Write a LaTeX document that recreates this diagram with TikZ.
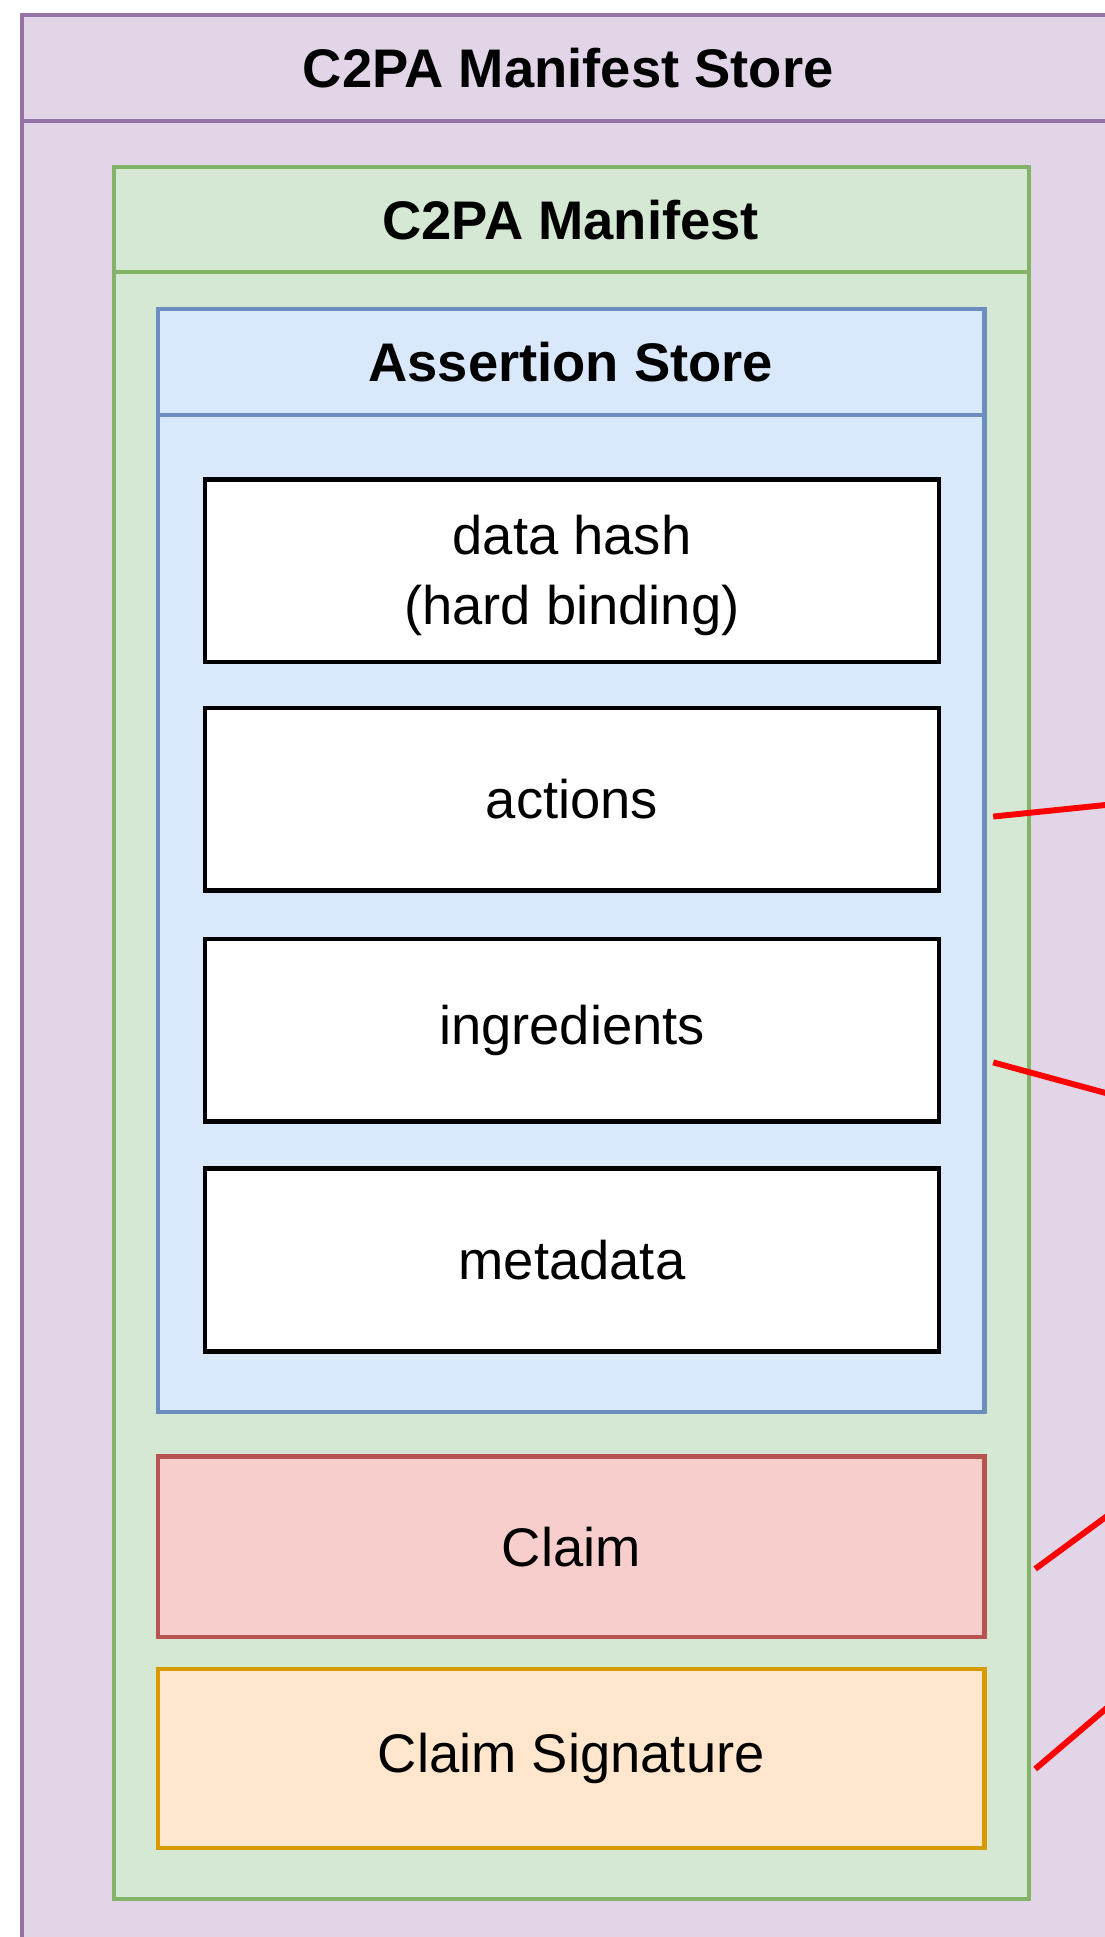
\documentclass[tikz,border=0pt]{standalone}
\usepackage{fontspec}
\setmainfont{Liberation Sans}
\begin{document}
\begin{tikzpicture}[x=1pt,y=-1pt,
  lbl/.style={font=\fontsize{44}{57}\selectfont, align=center},
  hdr/.style={font=\fontsize{44}{57}\selectfont\bfseries},
  purplebox/.style={draw=purpleS, fill=purpleF, line width=3.5pt},
  greenbox/.style={draw=greenS, fill=greenF, line width=3.2pt},
  bluebox/.style={draw=blueS, fill=blueF, line width=3.5pt},
  whitebox/.style={draw=black, fill=white, line width=3.6pt},
  redbox/.style={draw=redS, fill=redF, line width=3.5pt},
  orangebox/.style={draw=orangeS, fill=orangeF, line width=3.5pt},
  redline/.style={draw=red, line width=4.8pt}]
\definecolor{purpleS}{HTML}{9673A6}
\definecolor{purpleF}{HTML}{E1D5E7}
\definecolor{greenS}{HTML}{82B366}
\definecolor{greenF}{HTML}{D5E8D4}
\definecolor{blueS}{HTML}{6C8EBF}
\definecolor{blueF}{HTML}{DAE8FC}
\definecolor{redS}{HTML}{B85450}
\definecolor{redF}{HTML}{F8CECC}
\definecolor{orangeS}{HTML}{D79B00}
\definecolor{orangeF}{HTML}{FFE6CC}
\useasboundingbox (0,0) rectangle (894,1568);
\fill[white] (0,0) rectangle (894,1568);
% Manifest store
\draw[purplebox] (18,12) rectangle (930,1610);
\draw[draw=purpleS, line width=3.5pt] (18,98) -- (930,98);
\node[hdr] (storeT) at (460,55) {C2PA Manifest Store};
% Manifest
\draw[greenbox] (92,135) rectangle (833,1537);
\draw[draw=greenS, line width=3.2pt] (92,220) -- (833,220);
\node[hdr] (manT) at (462,178) {C2PA Manifest};
% Assertion store
\draw[bluebox] (128,250) rectangle (797,1143);
\draw[draw=blueS, line width=3.5pt] (128,336) -- (797,336);
\node[hdr] (asT) at (462,293) {Assertion Store};
% Assertions
\node[whitebox, minimum width=594pt, minimum height=148pt, inner sep=0pt] (hash) at (463,462) {};
\node[lbl] (hashT) at (463,466) {data hash\\(hard binding)};
\node[whitebox, lbl, minimum width=594pt, minimum height=148pt, inner sep=0pt] (actions) at (463,647) {actions};
\node[whitebox, lbl, minimum width=594pt, minimum height=148pt, inner sep=0pt] (ingr) at (463,834) {ingredients};
\node[whitebox, lbl, minimum width=594pt, minimum height=148pt, inner sep=0pt] (meta) at (463,1020) {metadata};
% Claim & signature
\node[redbox, lbl, minimum width=669pt, minimum height=146pt, inner sep=0pt] (claim) at (462.5,1252) {Claim};
\node[orangebox, lbl, minimum width=669pt, minimum height=145pt, inner sep=0pt] (sig) at (462.5,1423.5) {Claim Signature};
% Red connectors
\coordinate (a1) at (804,661);
\coordinate (a2) at (940,647);
\coordinate (b1) at (804,860);
\coordinate (b2) at (940,897);
\coordinate (c1) at (838,1270);
\coordinate (c2) at (940,1195);
\coordinate (d1) at (838,1432);
\coordinate (d2) at (940,1345);
\draw[redline] (a1) -- (a2);
\draw[redline] (b1) -- (b2);
\draw[redline] (c1) -- (c2);
\draw[redline] (d1) -- (d2);
\end{tikzpicture}
\end{document}
